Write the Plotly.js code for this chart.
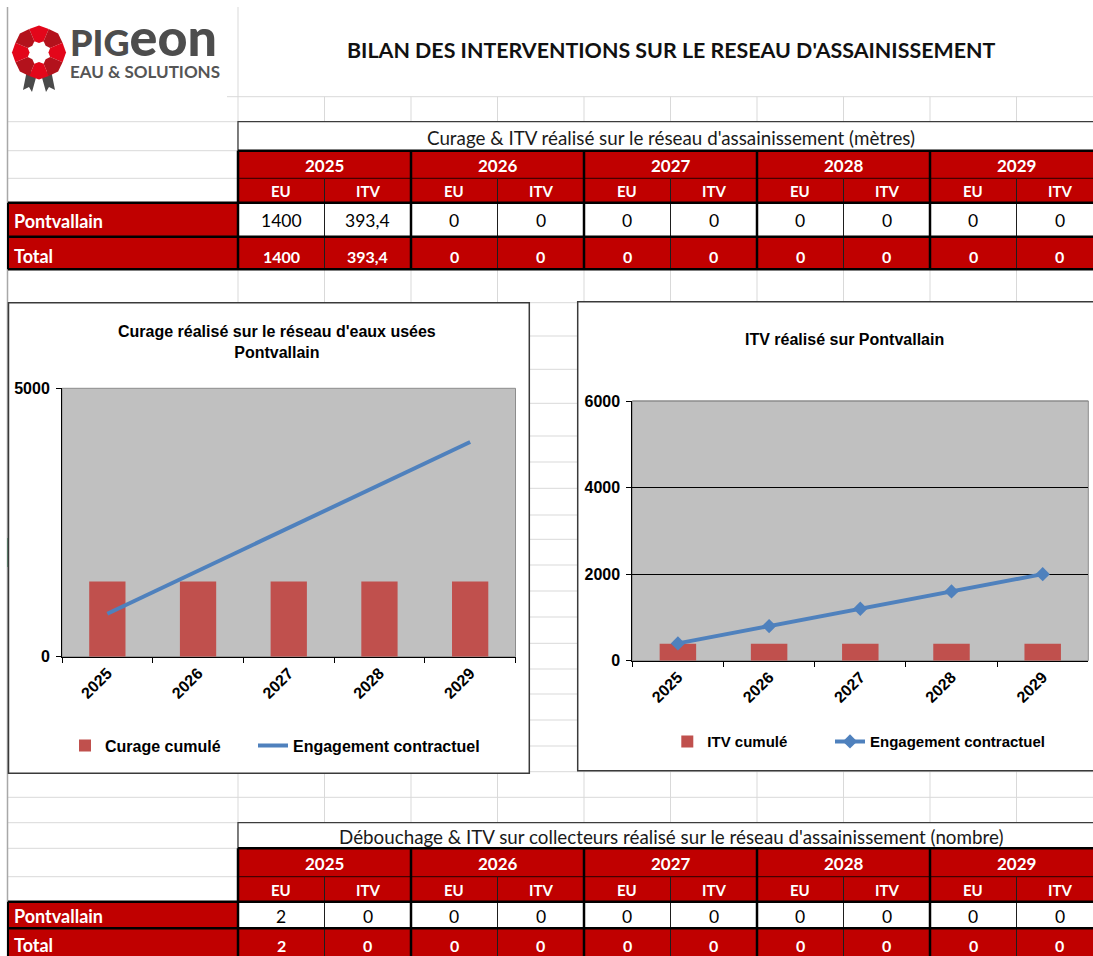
<!DOCTYPE html>
<html><head><meta charset="utf-8">
<script src="https://cdn.plot.ly/plotly-3.0.1.min.js"></script>
<style>html,body{margin:0;padding:0;background:#fff;overflow:hidden;} #chart{width:1093px;height:956px;}</style>
</head><body><div id="chart"></div>
<script>
// ---------- data ----------
const years = ['2025', '2026', '2027', '2028', '2029'];
const subColumns = ['EU', 'ITV'];
const commune = 'Pontvallain';
const curageCumule = [1400, 1400, 1400, 1400, 1400];
const curageEngagement = [800, 1600, 2400, 3200, 4000];
const itvCumule = [393.4, 393.4, 393.4, 393.4, 393.4];
const itvEngagement = [400, 800, 1200, 1600, 2000];
const metresPontvallain = [1400, 393.4, 0, 0, 0, 0, 0, 0, 0, 0];
const metresTotal = [1400, 393.4, 0, 0, 0, 0, 0, 0, 0, 0];
const nombrePontvallain = [2, 0, 0, 0, 0, 0, 0, 0, 0, 0];
const nombreTotal = [2, 0, 0, 0, 0, 0, 0, 0, 0, 0];
const curageTicks = [0, 5000];
const itvTicks = [0, 2000, 4000, 6000];

const mainTitle = "BILAN DES INTERVENTIONS SUR LE RESEAU D'ASSAINISSEMENT";
const table1Title = "Curage & ITV réalisé sur le réseau d'assainissement (mètres)";
const table2Title = "Débouchage & ITV sur collecteurs réalisé sur le réseau d'assainissement (nombre)";
const chart1Title = "Curage réalisé sur le réseau d'eaux usées<br>Pontvallain";
const chart2Title = "ITV réalisé sur Pontvallain";

// ---------- layout helpers ----------
const W = 1093, H = 956;
const X = p => p / W;
const Y = p => 1 - p / H;
const RED = '#C00000';
const GRID = '#D9D9D9';
const ARIAL = '"Liberation Sans", Arial, sans-serif';
const CAL = 'Lato, "Noto Sans", sans-serif';
const shapes = [];
const annotations = [];

function rect(x0, y0, x1, y1, fill, lineColor, lw) {
  shapes.push({type: 'rect', xref: 'paper', yref: 'paper', layer: 'below',
    x0: X(x0), x1: X(x1), y0: Y(y1), y1: Y(y0), fillcolor: fill,
    line: {color: lineColor || 'rgba(0,0,0,0)', width: lw || 0}});
}
function seg(x0, y0, x1, y1, color, w) {
  shapes.push({type: 'line', xref: 'paper', yref: 'paper', layer: 'below',
    x0: X(x0), x1: X(x1), y0: Y(y0), y1: Y(y1), line: {color: color, width: w}});
}
function poly(pts, fill) {
  const d = pts.map((p, i) => (i ? 'L' : 'M') + X(p[0]).toFixed(5) + ',' + Y(p[1]).toFixed(5)).join(' ') + ' Z';
  shapes.push({type: 'path', xref: 'paper', yref: 'paper', layer: 'below', path: d,
    fillcolor: fill, line: {width: 0, color: 'rgba(0,0,0,0)'}});
}
function label(txt, x, y, o) {
  annotations.push({text: txt, xref: 'paper', yref: 'paper', x: X(x), y: Y(y),
    xanchor: o.xanchor || 'center', yanchor: 'middle', showarrow: false,
    font: {family: o.family || CAL, size: o.size || 15, color: o.color || '#000', weight: o.weight || 'normal'}});
}
const fmt = v => String(v).replace('.', ',');

// ---------- spreadsheet grid ----------
const colX = [238, 324.5, 411, 497.5, 584, 670.5, 757, 843.5, 930, 1016.5];
const rowY = [96.7, 121.7, 150.7, 178.3, 202.7, 236.7, 269.3, 302.7, 336, 369.3, 403.3, 436, 462,
  488.3, 515, 539.3, 565, 591, 617, 643.3, 669, 694, 720, 746, 771.7, 797.3, 822.7, 848.3, 876.7, 901.7, 928.3];
rowY.forEach((y, i) => seg(i === 0 ? 227 : 8, y, W, y, GRID, 1));
colX.forEach((x, i) => seg(x, i === 0 ? 7 : 96.7, x, H, GRID, 1));
seg(7.5, 7, 7.5, H, '#A8A8A8', 1.5);
seg(8.5, 538, 8.5, 567, '#1E7145', 2);

// ---------- logo ----------
poly([[27, 70], [37, 74], [32, 92], [29, 87], [23, 90]], '#4A4A4A');
poly([[41, 74], [51, 70], [55, 90], [49, 87], [46, 92]], '#4A4A4A');
(function () {
  const cx = 39, cy = 52.5, R = 25.5, r = 10.5;
  const P = (rad, deg) => [cx + rad * Math.cos(deg * Math.PI / 180), cy + rad * Math.sin(deg * Math.PI / 180)];
  for (let i = 0; i < 8; i++) {
    const a = -112.5 + i * 45;
    poly([P(R, a), P(R * 1.06, a + 22.5), P(R, a + 45), P(r * 1.15, a + 45), P(r * 0.9, a + 22.5), P(r * 1.15, a)],
      i % 2 ? '#B3121C' : '#E3061A');
  }
})();
annotations.push({
  text: '<span style="font-size:36px;font-weight:900;fill:#4D4D4D">PIG</span>' +
        '<span style="font-size:52px;font-weight:900;fill:#4D4D4D">eon</span><br>EAU &amp; SOLUTIONS',
  xref: 'paper', yref: 'paper', x: X(68), y: Y(3.5), xanchor: 'left', yanchor: 'top', align: 'left',
  showarrow: false, font: {family: CAL, size: 17, color: '#555555', weight: 'bold'}});

// ---------- main title ----------
label(mainTitle, 671, 50, {size: 21.4, weight: 'bold', color: '#111'});

// ---------- tables ----------
function drawTable(rows, title, pVals, tVals) {
  const [yT, yY, yE, yP, yTot, yB] = rows;
  const xL = 8, xS = 238, cw = 86.5, n = 2 * years.length, xR = xS + cw * n;
  rect(xS, yT, xR, yY, '#FFFFFF', '#3C3C3C', 1.3);
  rect(xS, yY, xR, yP, RED);
  rect(xL, yP, xS, yTot, RED);
  rect(xS, yP, xR, yTot, '#FFFFFF');
  rect(xL, yTot, xR, yB, RED);
  seg(xS, yE, xR, yE, '#2A0000', 1);
  for (let k = 1; k < n; k += 2) { const x = xS + k * cw; seg(x, yE, x, yB, '#1E1E1E', 1); }
  for (let k = 0; k <= n; k += 2) { const x = xS + k * cw; seg(x, yY, x, yB, '#000', 2.5); }
  seg(xS, yY, xR, yY, '#000', 2.5);
  [yP, yTot, yB].forEach(y => seg(xL, y, xR, y, '#000', 2.5));
  seg(xL, yP, xL, yB, '#000', 2);
  const totY = Math.min((yTot + yB) / 2 + 3, H - 11);
  label(title, 670.5, (yT + yY) / 2 + 1, {size: 18.8, color: '#1A1A1A'});
  years.forEach((yr, i) => {
    label(yr, xS + (2 * i + 1) * cw, (yY + yE) / 2 + 1, {size: 17, weight: 'bold', color: '#FFF'});
    subColumns.forEach((s, j) => {
      const c = xS + (2 * i + j + 0.5) * cw;
      label(s, c, (yE + yP) / 2 + 1, {size: 15, weight: 'bold', color: '#FFF'});
      label(fmt(pVals[2 * i + j]), c, (yP + yTot) / 2 + 1, {size: 17.5, color: '#000'});
      label(fmt(tVals[2 * i + j]), c, totY, {size: 16, weight: 'bold', color: '#FFF'});
    });
  });
  label(commune, 12, (yP + yTot) / 2 + 1, {xanchor: 'left', size: 18, weight: 'bold', color: '#FFF'});
  label('Total', 12, totY, {xanchor: 'left', size: 18, weight: 'bold', color: '#FFF'});
}
drawTable([121.7, 150.7, 178.3, 202.7, 236.7, 269.3], table1Title, metresPontvallain, metresTotal);
drawTable([822.7, 848.3, 876.7, 901.7, 928.3, 962], table2Title, nombrePontvallain, nombreTotal);

// ---------- chart boxes ----------
rect(8.5, 302.7, 529.3, 773.3, '#FFFFFF', '#3A3A3A', 1.5);
rect(577.7, 301.7, 1110, 770.7, '#FFFFFF', '#3A3A3A', 1.5);
['', '2'].forEach(s => shapes.push({type: 'rect', xref: 'x' + s + ' domain', yref: 'y' + s + ' domain', layer: 'below',
  x0: 0, x1: 1, y0: 0, y1: 1, fillcolor: '#C0C0C0', line: {color: '#8C8C8C', width: 1}}));
shapes.push({type: 'line', xref: 'x2 domain', yref: 'y2 domain', layer: 'above', x0: 0, x1: 1, y0: 1, y1: 1,
  line: {color: '#8C8C8C', width: 1}});

label(chart1Title, 277, 342.5, {family: ARIAL, size: 16, weight: 'bold', color: '#000'});
label(chart2Title, 844.3, 339.3, {family: ARIAL, size: 16, weight: 'bold', color: '#000'});

// ---------- traces ----------
const BAR = '#C0504D', BLUE = '#4F81BD';
const traces = [
  {type: 'bar', x: years, y: curageCumule, xaxis: 'x', yaxis: 'y', name: 'Curage cumulé', legend: 'legend',
    marker: {color: BAR}},
  {type: 'scatter', mode: 'lines', x: years, y: curageEngagement, xaxis: 'x', yaxis: 'y', name: 'Engagement contractuel',
    legend: 'legend2', line: {color: BLUE, width: 4}},
  {type: 'bar', x: years, y: itvCumule, xaxis: 'x2', yaxis: 'y2', name: 'ITV cumulé', legend: 'legend3',
    marker: {color: BAR}},
  {type: 'scatter', mode: 'lines+markers', x: years, y: itvEngagement, xaxis: 'x2', yaxis: 'y2', name: 'Engagement contractuel',
    legend: 'legend4', line: {color: BLUE, width: 4}, marker: {symbol: 'diamond', size: 11, color: BLUE}}
];

const tickFont = {family: ARIAL, size: 16, color: '#000', weight: 'bold'};
const xBase = {type: 'category', tickson: 'boundaries', ticks: 'outside', ticklen: 5, tickcolor: '#000', tickwidth: 1,
  showline: true, linecolor: '#000', linewidth: 1, tickangle: -45, tickfont: tickFont, showgrid: false,
  zeroline: false, fixedrange: true};
const yBase = {ticks: 'outside', ticklen: 5, tickcolor: '#000', tickwidth: 1, showline: true, linecolor: '#000',
  linewidth: 1, tickfont: tickFont, zeroline: false, fixedrange: true, tickmode: 'array', ticklabelstandoff: 3};

const legendBase = {orientation: 'h', xanchor: 'left', yanchor: 'middle', xref: 'paper', yref: 'paper',
  bgcolor: 'rgba(0,0,0,0)', borderwidth: 0};
const lf1 = {family: ARIAL, size: 16, color: '#000', weight: 'bold'};
const lf2 = {family: ARIAL, size: 15, color: '#000', weight: 'bold'};

const layout = {
  width: W, height: H, margin: {l: 0, r: 0, t: 0, b: 0, pad: 0},
  paper_bgcolor: '#FFFFFF', plot_bgcolor: 'rgba(0,0,0,0)',
  bargap: 0.6, showlegend: true, hovermode: false,
  xaxis: Object.assign({}, xBase, {domain: [X(62), X(515.5)], anchor: 'y'}),
  yaxis: Object.assign({}, yBase, {domain: [Y(656.7), Y(388.3)], anchor: 'x', range: [0, 5000],
    tickvals: curageTicks, showgrid: false}),
  xaxis2: Object.assign({}, xBase, {domain: [X(632.3), X(1088.3)], anchor: 'y2'}),
  yaxis2: Object.assign({}, yBase, {domain: [Y(660.7), Y(401)], anchor: 'x2', range: [0, 6000],
    tickvals: itvTicks, showgrid: true, gridcolor: '#000', gridwidth: 1}),
  legend: Object.assign({}, legendBase, {x: X(65), y: Y(745.7), font: lf1}),
  legend2: Object.assign({}, legendBase, {x: X(253), y: Y(745.7), font: lf1}),
  legend3: Object.assign({}, legendBase, {x: X(667.3), y: Y(741.7), font: lf2}),
  legend4: Object.assign({}, legendBase, {x: X(830), y: Y(741.7), font: lf2}),
  shapes: shapes,
  annotations: annotations
};

Plotly.newPlot('chart', traces, layout, {staticPlot: true, displayModeBar: false});
</script>
</body></html>
